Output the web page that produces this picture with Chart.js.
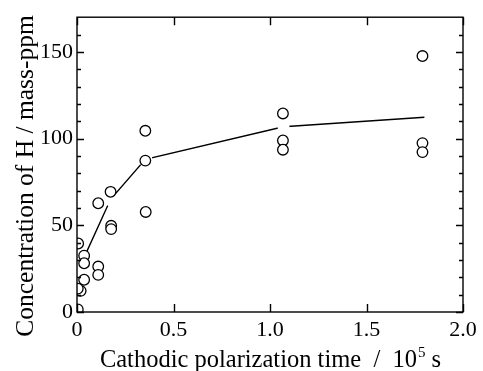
<!DOCTYPE html>
<html>
<head>
<meta charset="utf-8">
<script src="https://cdn.jsdelivr.net/npm/chart.js@4/dist/chart.umd.min.js"></script>
<style>
  html, body { margin: 0; padding: 0; background: #fff; }
  #wrap { width: 483px; height: 371px; }
</style>
</head>
<body>
<div id="wrap"><canvas id="hChart" width="483" height="371"></canvas></div>
<script>
// measured points (time in 10^5 s, H in mass-ppm)
const timeVals = [0.006, 0.004, 0.019, 0.004, 0.037, 0.037, 0.037, 0.11, 0.11, 0.11, 0.174, 0.177, 0.177, 0.354, 0.354, 0.356, 1.067, 1.067, 1.067, 1.79, 1.79, 1.79];
const concVals = [39.5, 1.5, 12.2, 13.5, 32.5, 28.1, 18.6, 62.7, 26.2, 21.4, 69.3, 49.7, 47.8, 104.5, 87.3, 57.7, 114.5, 98.9, 93.6, 147.6, 97.4, 92.2];

// trend line
const fitTime = [0.037, 0.174, 0.354, 1.07, 1.8];
const fitConc = [31.5, 65, 88, 106.8, 112.3];

const xTickVals = [0, 0.5, 1.0, 1.5, 2.0];
const yTickVals = [0, 50, 100, 150];
const yMinorVals = [10, 20, 30, 40, 60, 70, 80, 90, 110, 120, 130, 140, 160];

const serif = "'Liberation Serif', 'DejaVu Serif', serif";

const framePlugin = {
  id: "framePlugin",
  afterDraw: (chart) => {
    const ctx = chart.ctx;
    const a = chart.chartArea;
    const x = chart.scales.x;
    const y = chart.scales.y;
    ctx.save();
    ctx.strokeStyle = "#000";
    ctx.lineWidth = 1.4;
    ctx.strokeRect(a.left, a.top, a.right - a.left, a.bottom - a.top);
    ctx.beginPath();
    xTickVals.forEach((v) => {
      const px = Math.round(x.getPixelForValue(v)) + 0.5;
      ctx.moveTo(px, a.bottom); ctx.lineTo(px, a.bottom - 8);
      ctx.moveTo(px, a.top); ctx.lineTo(px, a.top + 8);
    });
    yTickVals.forEach((v) => {
      const py = Math.round(y.getPixelForValue(v)) + 0.5;
      ctx.moveTo(a.left, py); ctx.lineTo(a.left + 7, py);
      ctx.moveTo(a.right, py); ctx.lineTo(a.right - 7, py);
    });
    yMinorVals.forEach((v) => {
      const py = Math.round(y.getPixelForValue(v)) + 0.5;
      ctx.moveTo(a.left, py); ctx.lineTo(a.left + 4, py);
      ctx.moveTo(a.right, py); ctx.lineTo(a.right - 4, py);
    });
    ctx.stroke();

    // axis titles
    ctx.fillStyle = "#000";
    ctx.font = "25.5px " + serif;
    ctx.save();
    ctx.translate(26, 176);
    ctx.rotate(-Math.PI / 2);
    ctx.textAlign = "center";
    ctx.textBaseline = "middle";
    ctx.fillText("Concentration of H / mass-ppm", 0, 0);
    ctx.restore();

    const part1 = "Cathodic polarization time  /  10";
    const sup = "5";
    const part2 = " s";
    ctx.font = "24.5px " + serif;
    const w1 = ctx.measureText(part1).width;
    const w3 = ctx.measureText(part2).width;
    ctx.font = "15px " + serif;
    const w2 = ctx.measureText(sup).width;
    let sx = 270 - (w1 + w2 + w3) / 2;
    const base = 367;
    ctx.textAlign = "left";
    ctx.textBaseline = "alphabetic";
    ctx.font = "24.5px " + serif;
    ctx.fillText(part1, sx, base);
    ctx.font = "15px " + serif;
    ctx.fillText(sup, sx + w1 + 1, base - 10);
    ctx.font = "24.5px " + serif;
    ctx.fillText(part2, sx + w1 + w2 + 1, base);
    ctx.restore();
  },
};

const ctx = document.getElementById("hChart").getContext("2d");
new Chart(ctx, {
  type: "scatter",
  data: {
    datasets: [
      {
        label: "measured",
        data: timeVals.map((t, i) => ({ x: t, y: concVals[i] })),
        pointRadius: 5.3,
        pointBorderWidth: 1.3,
        pointBorderColor: "#000",
        pointBackgroundColor: "#fff",
        order: 0,
      },
      {
        label: "trend",
        data: fitTime.map((t, i) => ({ x: t, y: fitConc[i] })),
        showLine: true,
        borderColor: "#000",
        borderWidth: 1.4,
        tension: 0,
        // white dots at the vertices leave the little gaps of the original
        pointRadius: [6, 7, 7, 6, 0],
        pointBorderWidth: 0,
        pointBackgroundColor: "#fff",
        pointBorderColor: "#fff",
        order: 1,
      },
    ],
  },
  plugins: [framePlugin],
  options: {
    responsive: false,
    animation: false,
    events: [],
    layout: { padding: { top: 15, right: 20, left: 0, bottom: 0 } },
    plugins: {
      legend: { display: false },
      tooltip: { enabled: false },
    },
    scales: {
      x: {
        type: "linear",
        min: 0,
        max: 2,
        grid: { display: false, drawTicks: false },
        border: { display: false },
        afterFit: (scale) => { scale.height = 59; },
        ticks: {
          stepSize: 0.5,
          includeBounds: false,
          padding: 5,
          color: "#000",
          font: { family: serif, size: 22 },
          callback: (v) => (v === 0 ? "0" : v.toFixed(1)),
        },
      },
      y: {
        type: "linear",
        min: 0,
        max: 170,
        grid: { display: false, drawTicks: false },
        border: { display: false },
        afterFit: (scale) => { scale.width = 77; },
        ticks: {
          stepSize: 50,
          includeBounds: false,
          padding: 4,
          color: "#000",
          font: { family: serif, size: 22 },
          callback: (v) => (v % 50 === 0 ? String(v) : ""),
        },
      },
    },
  },
});
</script>
</body>
</html>
